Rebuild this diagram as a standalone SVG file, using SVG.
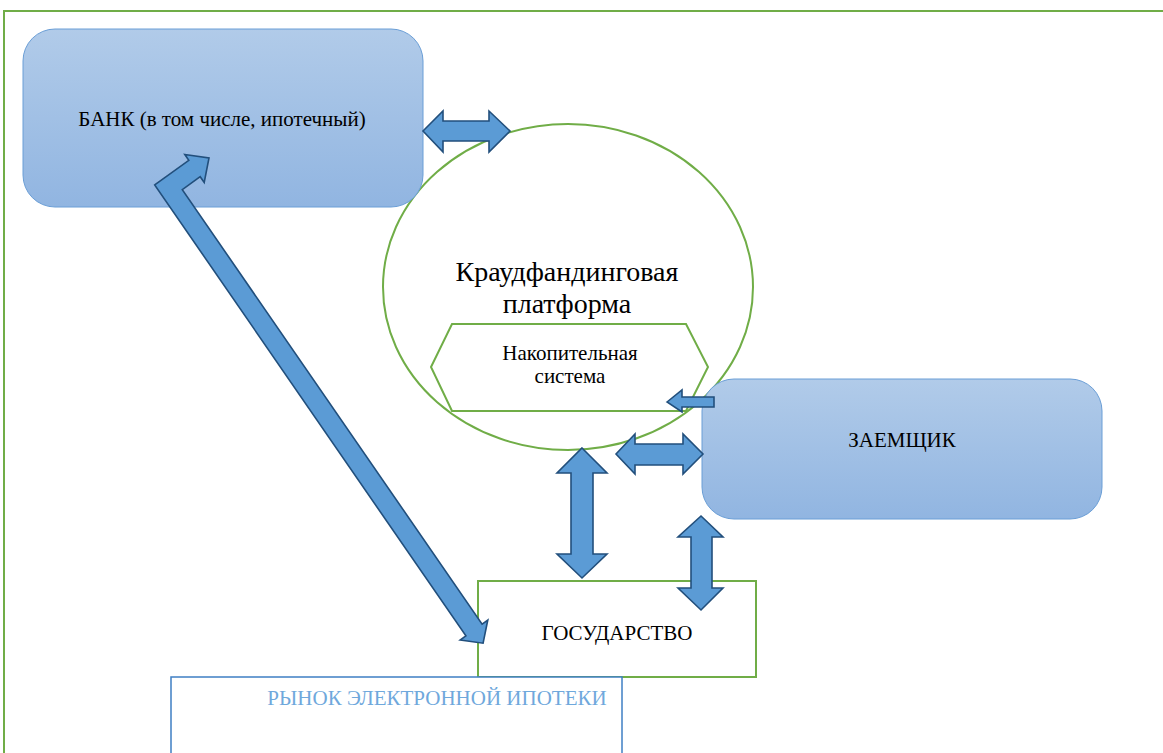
<svg xmlns="http://www.w3.org/2000/svg" width="1163" height="753" viewBox="0 0 1163 753">
<defs>
<linearGradient id="blueFill" x1="0" y1="0" x2="0" y2="1">
<stop offset="0" stop-color="#b1cbe9"/>
<stop offset="1" stop-color="#91b5e1"/>
</linearGradient>
<style>
.frame{fill:none;stroke:#70ad47;stroke-width:2}
.green{fill:#ffffff;stroke:#70ad47;stroke-width:2}
.bluebox{fill:url(#blueFill);stroke:#6a9ed6;stroke-width:1}
.arrow{fill:#5b9bd5;stroke:#224f7c;stroke-width:1.6;stroke-linejoin:miter}
.t{font-family:"Liberation Serif","Times New Roman",serif;fill:#000000;text-anchor:middle}
</style>
</defs>
<rect x="0" y="0" width="1163" height="753" fill="#ffffff"/>
<rect class="frame" x="4" y="11" width="1200" height="800"/>

<g id="platform">
<ellipse class="green" cx="568" cy="287" rx="185" ry="163"/>
<text class="t" x="567" y="281" font-size="28">Краудфандинговая</text>
<text class="t" x="567" y="313" font-size="28">платформа</text>
</g>

<g id="bank">
<rect class="bluebox" x="23" y="29" width="400" height="178" rx="32" ry="32"/>
<text class="t" x="222" y="126" font-size="21">БАНК (в том числе, ипотечный)</text>
</g>

<g id="savings">
<polygon class="green" points="452,324 686,324 708,367 686,411 452,411 431,367"/>
<text class="t" x="570" y="360" font-size="21">Накопительная</text>
<text class="t" x="570" y="383" font-size="21">система</text>
</g>

<g id="borrower">
<rect class="bluebox" x="702" y="379" width="400" height="140" rx="32" ry="32"/>
<text class="t" x="902" y="447" font-size="21">ЗАЕМЩИК</text>
</g>

<g id="state">
<rect class="green" x="478" y="581" width="278" height="96"/>
<text class="t" x="617" y="640" font-size="21">ГОСУДАРСТВО</text>
</g>

<g id="market">
<rect x="171" y="677" width="451" height="100" fill="#ffffff" stroke="#3f7fc4" stroke-width="1.5"/>
<text x="437" y="705" font-size="21" font-family="&quot;Liberation Serif&quot;,&quot;Times New Roman&quot;,serif" fill="#6fa8dc" text-anchor="middle">РЫНОК ЭЛЕКТРОННОЙ ИПОТЕКИ</text>
</g>

<g id="connectors">
<polygon class="arrow" points="423,131 443,111 443,121 489,121 489,111 510,131 489,152 489,141 443,141 443,152"/>
<polygon class="arrow" points="667,402 682,390 682,397 714,397 714,407 682,407 682,412"/>
<polygon class="arrow" points="616,454 635,434 635,444 683,444 683,434 703,454 683,474 683,465 635,465 635,474"/>
<polygon class="arrow" points="582,448 607,473 593,473 593,554 607,554 582,578 557,554 571,554 571,473 557,473"/>
<polygon class="arrow" points="701,516 723,537 712,537 712,588 723,588 701,610 678,588 691,588 691,537 678,537"/>
<polygon class="arrow" points="154.7,184.9 188.8,160.3 184.8,154.5 209,158 204.2,182.5 200.2,176.7 182.3,189.7 482.1,624.1 487.8,620 483.1,643.2 460.2,640 465.9,635.9"/>
</g>
</svg>
